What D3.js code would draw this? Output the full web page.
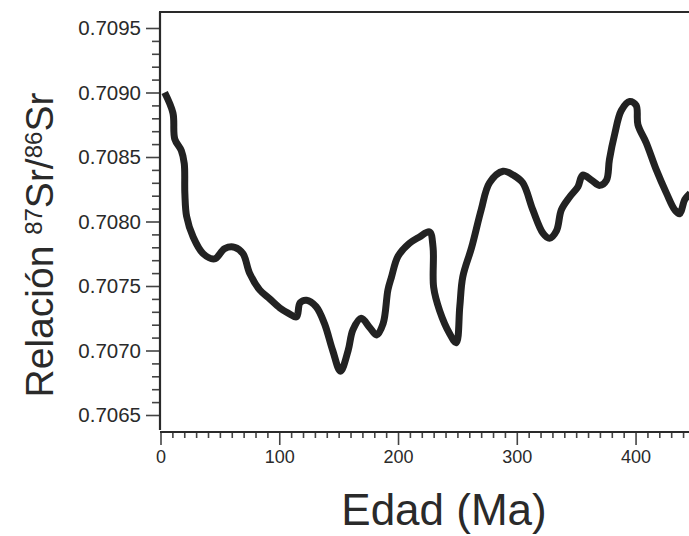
<!DOCTYPE html>
<html>
<head>
<meta charset="utf-8">
<script src="https://cdn.jsdelivr.net/npm/d3@7"></script>
<style>
  body { margin: 0; background: #fff; }
  svg { display: block; font-family: "Liberation Sans", Arial, sans-serif; }
</style>
</head>
<body>
<svg id="chart" width="689" height="536"></svg>
<script>
// age (Ma) and 87Sr/86Sr
let ages = [3.5, 10.5, 12, 17.5, 20, 20.5, 22, 27.5, 36, 45.5, 54, 62.5, 69.5, 75, 83.5, 92, 100.5, 107.5, 114.5, 117.5,
            123, 131, 138, 145, 151.5, 158, 162, 169, 176, 182, 187.5, 191.5, 194.5, 200, 209.5, 218, 226.5, 229.5, 230, 235,
            243.5, 249, 252, 254.5, 262, 270, 277, 288.5, 297, 305, 313.5, 322, 327.5, 333.5, 337.5, 344.5, 351.5, 355.5, 363, 370,
            375.5, 378, 382.5, 388, 395, 400.5, 402, 409, 417.5, 426, 433, 437, 441.5, 446];
let ratios = [0.70900, 0.70884, 0.70864, 0.70855, 0.70845, 0.70822, 0.70804, 0.70788, 0.70775, 0.70771, 0.70779, 0.70780, 0.70775, 0.70760, 0.70747, 0.70740, 0.70733, 0.70729, 0.70726, 0.70737,
              0.70739, 0.70734, 0.70721, 0.70700, 0.70684, 0.70700, 0.70716, 0.70725, 0.70718, 0.70712, 0.70721, 0.70747, 0.70757, 0.70773, 0.70783, 0.70788, 0.70792, 0.70780, 0.70749, 0.70731,
              0.70713, 0.70706, 0.70734, 0.70757, 0.70780, 0.70809, 0.70830, 0.70839, 0.70836, 0.70830, 0.70809, 0.70791, 0.70787, 0.70793, 0.70809, 0.70819, 0.70827, 0.70836, 0.70832, 0.70828,
              0.70832, 0.70848, 0.70868, 0.70886, 0.70893, 0.70890, 0.70875, 0.70861, 0.70840, 0.70822, 0.70809, 0.70806, 0.70817, 0.70822];

let yMajor = [0.7065, 0.7070, 0.7075, 0.7080, 0.7085, 0.7090, 0.7095];
let yMinor = d3.range(0, 31).map(i => +(0.7065 + i * 0.0001).toFixed(4)).filter(v => !yMajor.includes(v));
let xMajor = [0, 100, 200, 300, 400];
let xMinor = d3.range(0, 450, 10).filter(v => !xMajor.includes(v));

let svg = d3.select("#chart");
let plotLeft = 160, plotRight = 689, plotTop = 12, plotBottom = 432;
let ink = "#2a2a2a";

let x = d3.scaleLinear().domain([0, 445]).range([160.5, 689]);
let y = d3.scaleLinear().domain([0.7065, 0.7095]).range([415, 28]);

svg.append("defs").append("clipPath").attr("id", "plot")
    .append("rect").attr("x", plotLeft).attr("y", plotTop)
    .attr("width", plotRight - plotLeft).attr("height", plotBottom - plotTop);

// minor ticks
let yMinorAxis = svg.append("g").attr("transform", "translate(" + plotLeft + ",0)")
    .call(d3.axisLeft(y).tickValues(yMinor).tickSize(8).tickFormat("").tickSizeOuter(0));
let xMinorAxis = svg.append("g").attr("transform", "translate(0," + plotBottom + ")")
    .call(d3.axisBottom(x).tickValues(xMinor).tickSize(6).tickFormat("").tickSizeOuter(0));

// major ticks
let yAxis = svg.append("g").attr("transform", "translate(" + plotLeft + ",0)")
    .call(d3.axisLeft(y).tickValues(yMajor).tickSize(14).tickPadding(5).tickFormat(d3.format(".4f")).tickSizeOuter(0));
let xAxis = svg.append("g").attr("transform", "translate(0," + plotBottom + ")")
    .call(d3.axisBottom(x).tickValues(xMajor).tickSize(13).tickPadding(5).tickFormat(d3.format("d")).tickSizeOuter(0));

[yMinorAxis, xMinorAxis, yAxis, xAxis].forEach(a => {
    a.select(".domain").remove();
    a.selectAll("line").attr("stroke", "#444").attr("stroke-width", 1.6);
});
yAxis.selectAll("text").attr("font-size", 20.5).attr("fill", ink).attr("font-family", "Liberation Sans, Arial, sans-serif");
xAxis.selectAll("text").attr("font-size", 18).attr("fill", ink).attr("font-family", "Liberation Sans, Arial, sans-serif");

// frame lines
svg.append("line").attr("x1", plotLeft).attr("x2", plotLeft).attr("y1", plotTop).attr("y2", plotBottom - 2)
    .attr("stroke", ink).attr("stroke-width", 2.2);
svg.append("line").attr("x1", plotLeft).attr("x2", plotRight).attr("y1", plotBottom).attr("y2", plotBottom)
    .attr("stroke", ink).attr("stroke-width", 2.2);
svg.append("line").attr("x1", plotLeft - 1).attr("x2", plotRight).attr("y1", plotTop).attr("y2", plotTop)
    .attr("stroke", ink).attr("stroke-width", 2.2);

// curve
let valueline = d3.line()
    .x((d, i) => x(ages[i]))
    .y(d => y(d))
    .curve(d3.curveCatmullRom.alpha(0.5));

svg.append("path")
    .datum(ratios)
    .attr("clip-path", "url(#plot)")
    .attr("d", valueline)
    .attr("fill", "none")
    .attr("stroke", "#222")
    .attr("stroke-width", 7)
    .attr("stroke-linejoin", "round")
    .attr("stroke-linecap", "butt");

// axis titles
svg.append("text")
    .attr("x", 444).attr("y", 525)
    .attr("text-anchor", "middle")
    .attr("font-size", 44)
    .attr("fill", ink)
    .text("Edad (Ma)");

let yTitle = svg.append("text")
    .attr("transform", "translate(53,245) rotate(-90)")
    .attr("text-anchor", "middle")
    .attr("font-size", 39)
    .attr("fill", ink);
yTitle.append("tspan").text("Relación ");
yTitle.append("tspan").attr("font-size", 24).attr("dy", -11).text("87");
yTitle.append("tspan").attr("dy", 11).text("Sr/");
yTitle.append("tspan").attr("font-size", 24).attr("dy", -11).text("86");
yTitle.append("tspan").attr("dy", 11).text("Sr");
</script>
</body>
</html>
